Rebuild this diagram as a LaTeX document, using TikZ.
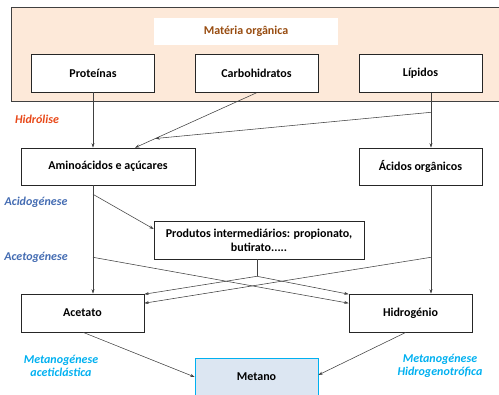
\documentclass[tikz,border=0pt]{standalone}
\usepackage{fontspec}
\setmainfont{Carlito}
\definecolor{peach}{RGB}{253, 233, 217}
\definecolor{frame}{RGB}{64, 64, 64}
\definecolor{brownish}{RGB}{152, 76, 16}
\definecolor{hydro}{RGB}{232, 72, 24}
\definecolor{steel}{RGB}{68, 108, 178}
\definecolor{skyblue}{RGB}{0, 176, 240}
\definecolor{methfill}{RGB}{220, 230, 242}
\usetikzlibrary{arrows.meta, calc, shadows}
\tikzset{
    stagebox/.style={
        rectangle,
        draw=black!85,
        fill=white,
        line width=0.6pt,
        minimum width=123pt,
        minimum height=38pt,
        align=center,
        inner sep=2pt,
        font=\fontsize{12}{14}\selectfont\bfseries,
        drop shadow={shadow xshift=0.8pt, shadow yshift=-0.8pt, opacity=0.35}
    },
    phaselabel/.style={
        align=center,
        inner sep=0pt,
        font=\fontsize{12}{13}\selectfont\bfseries\itshape
    },
    flowarrow/.style={->, line width=0.55pt, >={Stealth[length=4.5pt, width=3pt]}, color=frame}
}

\begin{document}
\begin{tikzpicture}[x=1pt, y=-1pt]
          \useasboundingbox (0,0) rectangle (499,395);
          \clip (0,0) rectangle (499,395);
          \draw[fill=peach, draw=frame, line width=0.7pt] (11,7) rectangle (506,101);

          \node[fill=white, minimum width=184pt, minimum height=27pt, text=brownish,
                font=\fontsize{12}{14}\selectfont\bfseries] (materia) at (246,31.5) {Matéria orgânica};
          \node[stagebox] (proteinas) at (93,73) {Proteínas};
          \node[stagebox] (carbo) at (256.5,73.5) {Carbohidratos};
          \node[stagebox] (lipidos) at (420.5,73.5) {Lípidos};
          \node[stagebox, minimum width=174pt, minimum height=37pt] (amino) at (108,166.5) {Aminoácidos e açúcares};
          \node[stagebox, minimum height=37pt] (acidos) at (420.5,166.5) {Ácidos orgânicos};
          \node[stagebox, minimum width=210pt] (produtos) at (259,240) {Produtos intermediários: propionato,\\butirato.....};
          \node[stagebox] (acetato) at (82.5,313) {Acetato};
          \node[stagebox] (hidro) at (410.5,313) {Hidrogénio};
          \node[stagebox, fill=methfill, draw=skyblue, drop shadow={opacity=0}] (metano) at (256.5,377) {Metano};

          \node[phaselabel, text=hydro] (hidrolise) at (37,119) {Hidrólise};
          \node[phaselabel, text=steel] (acidogen) at (36,202.5) {Acidogénese};
          \node[phaselabel, text=steel] (acetogen) at (36,257) {Acetogénese};
          \node[phaselabel, text=skyblue] (metacet) at (61,365.5) {Metanogénese\\aceticlástica};
          \node[phaselabel, text=skyblue] (metahid) at (440,365.5) {Metanogénese\\Hidrogenotrófica};

          \coordinate (aminoin) at ([xshift=27pt]amino.north);
          \coordinate (merge) at ($(carbo.south)!0.833!(aminoin)$);
          \coordinate (lipout) at ([xshift=10.5pt]lipidos.south);
          \coordinate (lipbranch) at ([yshift=-19.5pt]lipout);
          \coordinate (aminoout) at (proteinas.south |- amino.south);
          \coordinate (aminofork) at ([yshift=-9pt]aminoout);
          \coordinate (aminocross) at ([yshift=-72pt]aminoout);
          \coordinate (acidosout) at (lipout |- acidos.south);
          \coordinate (acidoscross) at ([yshift=-72pt]acidosout);
          \coordinate (split) at ([xshift=-2pt, yshift=-17pt]produtos.south);

          \draw[flowarrow] (proteinas.south) -- (proteinas.south |- amino.north);
          \draw[flowarrow] (carbo.south) -- (aminoin);
          \draw[flowarrow] (lipout) -- (lipout |- acidos.north);
          \draw[flowarrow] (lipbranch) -- (merge);
          \draw[flowarrow] (aminoout) -- (aminoout |- acetato.north);
          \draw[flowarrow] (aminofork) -- ([yshift=11pt]produtos.west);
          \draw[flowarrow] (acidosout) -- (acidosout |- hidro.north);
          \draw[line width=0.55pt, color=frame] (produtos.south -| split) -- (split);
          \draw[flowarrow] (split) -- ([yshift=-0.5pt]acetato.north east);
          \draw[flowarrow] (split) -- ([yshift=-0.5pt]hidro.north west);
          \draw[flowarrow] (aminocross) -- ([yshift=-9.5pt]hidro.north west);
          \draw[flowarrow] (acidoscross) -- ([yshift=-9.5pt]acetato.north east);
          \draw[flowarrow] ([xshift=0.5pt]acetato.south) -- (metano.west);
          \draw[flowarrow] ([xshift=-4.5pt]hidro.south) -- ([yshift=2pt]metano.east);
        \end{tikzpicture}
\end{document}
